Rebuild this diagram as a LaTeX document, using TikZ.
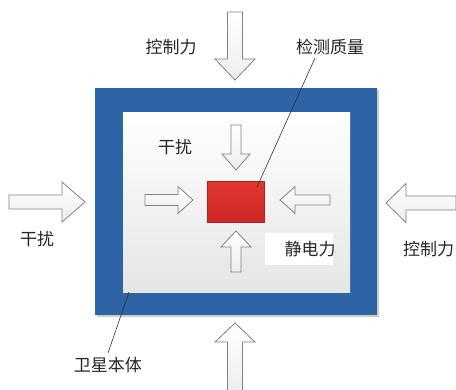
\documentclass[tikz,border=0pt]{standalone}
\usepackage{fontspec}
\newfontfamily\cjk{Noto Sans CJK SC}
\definecolor{frameblue}{RGB}{45,100,166}
\definecolor{masstop}{RGB}{226,56,50}
\definecolor{massbot}{RGB}{205,38,36}
\definecolor{arrowline}{RGB}{130,130,130}
\tikzset{
  lbl/.style={font=\cjk\fontsize{17}{20}\selectfont, inner sep=0pt, text=black!85},
  arrowbody/.style={draw=arrowline, line width=0.8pt, top color=white, bottom color=gray!14, line join=miter},
  leader/.style={draw=black!80, line width=0.6pt},
  pics/fatarrow/.style n args={4}{code={
    \path[arrowbody] (0,-#3) -- ({#1-#2},-#3) -- ({#1-#2},-#4) -- (#1,0) -- ({#1-#2},#4) -- ({#1-#2},#3) -- (0,#3) -- cycle;
  }}
}
\begin{document}
\begin{tikzpicture}[x=1pt,y=-1pt]
\useasboundingbox[fill=white] (0,0) rectangle (456,390);
% satellite body
\fill[black!20] (97,90) rectangle (379,317);
\node[fill=frameblue, minimum width=282pt, minimum height=227pt, inner sep=0pt, anchor=north west] (body) at (95,88) {};
\node[inner sep=0pt, minimum width=227pt, minimum height=180pt, anchor=north west, top color=white, bottom color=black!10] (cavity) at (123,112) {};
% proof mass
\node[inner sep=0pt, minimum width=57pt, minimum height=41pt, anchor=north west, top color=masstop, bottom color=massbot, draw=massbot!85!black, line width=0.3pt] (mass) at (207,181) {};
% outer arrows
\pic[rotate=-90] (ta) at (235,12) {fatarrow={68}{21}{7.5}{20}};
\pic[rotate=90] (ba) at (235,393) {fatarrow={70}{19}{7.5}{20}};
\pic (la) at (9,202) {fatarrow={76}{23}{7}{20}};
\pic[rotate=180] (ra) at (456,203) {fatarrow={70}{20}{7}{19.5}};
% inner arrows
\pic[rotate=-90] (tia) at (236,125) {fatarrow={45}{16}{5}{14}};
\pic[rotate=90] (bia) at (236,272) {fatarrow={41}{16}{5}{15}};
\pic (lia) at (145,200) {fatarrow={48}{15}{5.5}{13.5}};
\pic[rotate=180] (ria) at (330,200) {fatarrow={50}{15}{5}{13.5}};
% labels
\node[lbl] (kz1) at (171,47) {控制力};
\node[lbl] (jc) at (330,47) {检测质量};
\node[lbl] (gr1) at (175,147) {干扰};
\node[lbl] (gr2) at (37,239) {干扰};
\node[fill=white, inner sep=0pt, minimum width=68pt, minimum height=32pt, anchor=north west] (jbg) at (265,233) {};
\node[lbl] (jd) at (310,249) {静电力};
\node[lbl, anchor=west] (kz2) at (403,249) {控制力};
\node[lbl] (wx) at (108,365) {卫星本体};
% leader lines
\coordinate (jcfoot) at (315,58);
\coordinate (masspt) at (257,187);
\coordinate (wxtop) at (108,353);
\coordinate (bodypt) at (129,292);
\draw[leader] (jcfoot) -- (masspt);
\draw[leader] (wxtop) -- (bodypt);
\end{tikzpicture}
\end{document}
